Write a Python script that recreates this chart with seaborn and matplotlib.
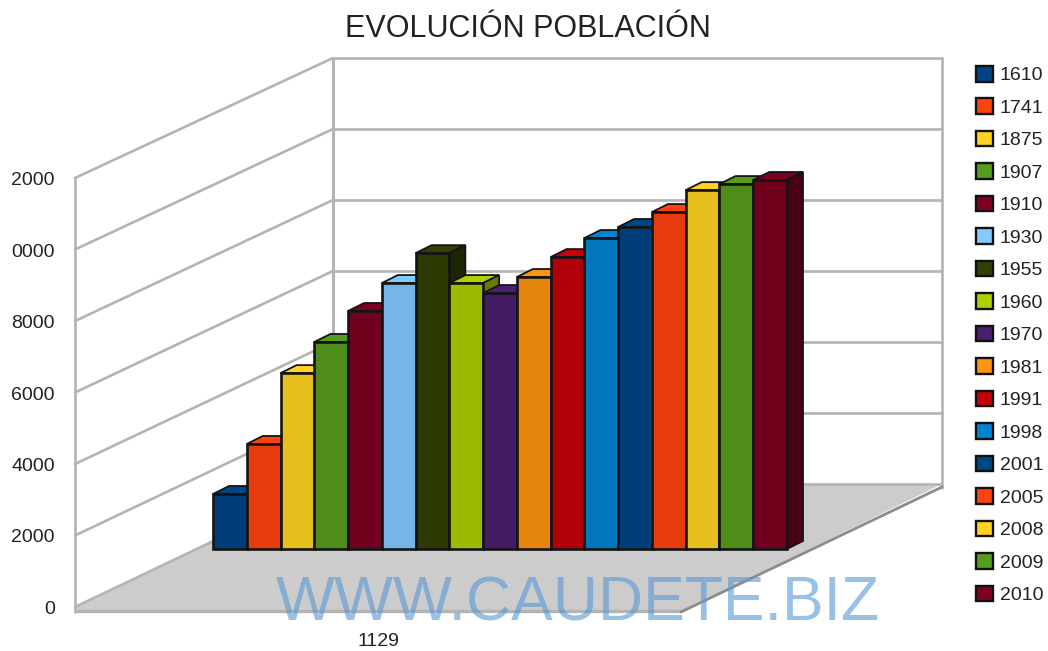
import numpy as np
import seaborn as sns
import matplotlib
matplotlib.use("Agg")
import matplotlib.pyplot as plt
from matplotlib.patches import Patch, Polygon

years = ["1610", "1741", "1875", "1907", "1910", "1930", "1955", "1960", "1970",
         "1981", "1991", "1998", "2001", "2005", "2008", "2009", "2010"]
population = [1545, 2950, 4940, 5815, 6685, 7470, 8310, 7470, 7190,
              7640, 8200, 8735, 9045, 9465, 10080, 10250, 10365]
colours = ["#004586", "#ff420e", "#ffd320", "#579d1c", "#7e0021", "#83caff",
           "#314004", "#aecf00", "#4b1f6f", "#ff950e", "#c5000b", "#0084d1",
           "#004586", "#ff420e", "#ffd320", "#579d1c", "#7e0021"]
axis_values = [0, 2000, 4000, 6000, 8000, 10000, 12000]
# the labels are cut off at the left edge in the original image
axis_labels = ["0", "2000", "4000", "6000", "8000", "0000", "2000"]
category = "1129"
title = "EVOLUCIÓN POBLACIÓN"
mark = "WWW.CAUDETE.BIZ"

W, H = 1048, 651
GREY = "#b4b4b4"
FONT = "Liberation Sans"


def shade(col, f):
    return tuple(c * f for c in matplotlib.colors.to_rgb(col))


sns.set_theme(style="white")
plt.rcParams["font.family"] = [FONT, "DejaVu Sans"]
plt.rcParams["text.color"] = "#222222"

fig = plt.figure(figsize=(W / 100, H / 100), dpi=100, facecolor="white")

# walls and floor, in pixel coords
bg = fig.add_axes([0, 0, 1, 1])
bg.set_xlim(0, W)
bg.set_ylim(H, 0)
bg.axis("off")

bg.add_patch(Polygon([(75, 608), (333, 484), (942, 484), (681, 612), (75, 612)],
                     facecolor="#cccccc", edgecolor="none"))
for v, lab in zip(axis_values, axis_labels):
    fy = 607 - v * 0.03575
    by = 484 - v * 0.0355
    bg.plot([75, 333], [fy, by], color=GREY, lw=1.9)
    bg.plot([333, 942], [by, by], color=GREY, lw=1.9)
    bg.text(55, fy + 2.5, lab, ha="right", va="center", fontsize=14)

bg.plot([75, 75], [178, 612], color=GREY, lw=1.9)
bg.plot([333, 333], [58, 484], color=GREY, lw=2.2)
bg.plot([942, 942], [58, 488], color=GREY, lw=1.9)
bg.plot([75, 681], [611, 611], color=GREY, lw=2.4)
bg.plot([681, 942], [612, 487], color="#8c8c8c", lw=2)
bg.text(378, 641, category, ha="center", va="center", fontsize=14)

# bars: axes sits exactly on the plane of the front faces
left, right, base, per_unit = 213, 787, 549, 0.0356
top_value = 12000
ax = fig.add_axes([left / W, 1 - base / H, (right - left) / W, top_value * per_unit / H])
ax.patch.set_alpha(0)
sns.barplot(x=years, y=population, hue=years, palette=[shade(c, 0.9) for c in colours],
            width=1, dodge=False, legend=False, edgecolor="#141414", linewidth=1.9,
            saturation=1, ax=ax)
ax.set_xlim(-0.5, len(years) - 0.5)
ax.set_ylim(0, top_value)
ax.axis("off")

dx = 16 / ((right - left) / len(years))
dy = 8 / per_unit
bars = sorted(ax.patches, key=lambda b: b.get_x())
for i, (b, c) in enumerate(zip(bars, colours)):
    x0, x1, h = b.get_x(), b.get_x() + b.get_width(), b.get_height()
    z = 3 + i * 2
    b.set_zorder(z + 1)
    b.set_clip_on(False)
    ax.add_patch(Polygon([(x0, h), (x0 + dx, h + dy), (x1 + dx, h + dy), (x1, h)],
                         facecolor=c, edgecolor="#141414", lw=1.3, zorder=z, clip_on=False))
    ax.add_patch(Polygon([(x1, 0), (x1 + dx, dy), (x1 + dx, h + dy), (x1, h)],
                         facecolor=shade(c, 0.6), edgecolor="#141414", lw=1.3, zorder=z, clip_on=False))

handles = [Patch(facecolor=c, edgecolor="#111111", lw=1.7, label=y) for y, c in zip(years, colours)]
fig.legend(handles=handles, loc="upper left", bbox_to_anchor=(976 / W, 1 - 66 / H),
           frameon=False, fontsize=14, ncol=1, borderpad=0, borderaxespad=0,
           handlelength=0.85, handleheight=0.85, handletextpad=0.36, labelspacing=0.72)

fig.text(528 / W, 1 - 29 / H, title, ha="center", va="center", fontsize=22)
fig.text(578 / W, 1 - 604 / H, mark, ha="center", va="center", fontsize=45,
         color="#5b9bd5", alpha=0.62)

fig.savefig("out.png", dpi=100, facecolor="white")
